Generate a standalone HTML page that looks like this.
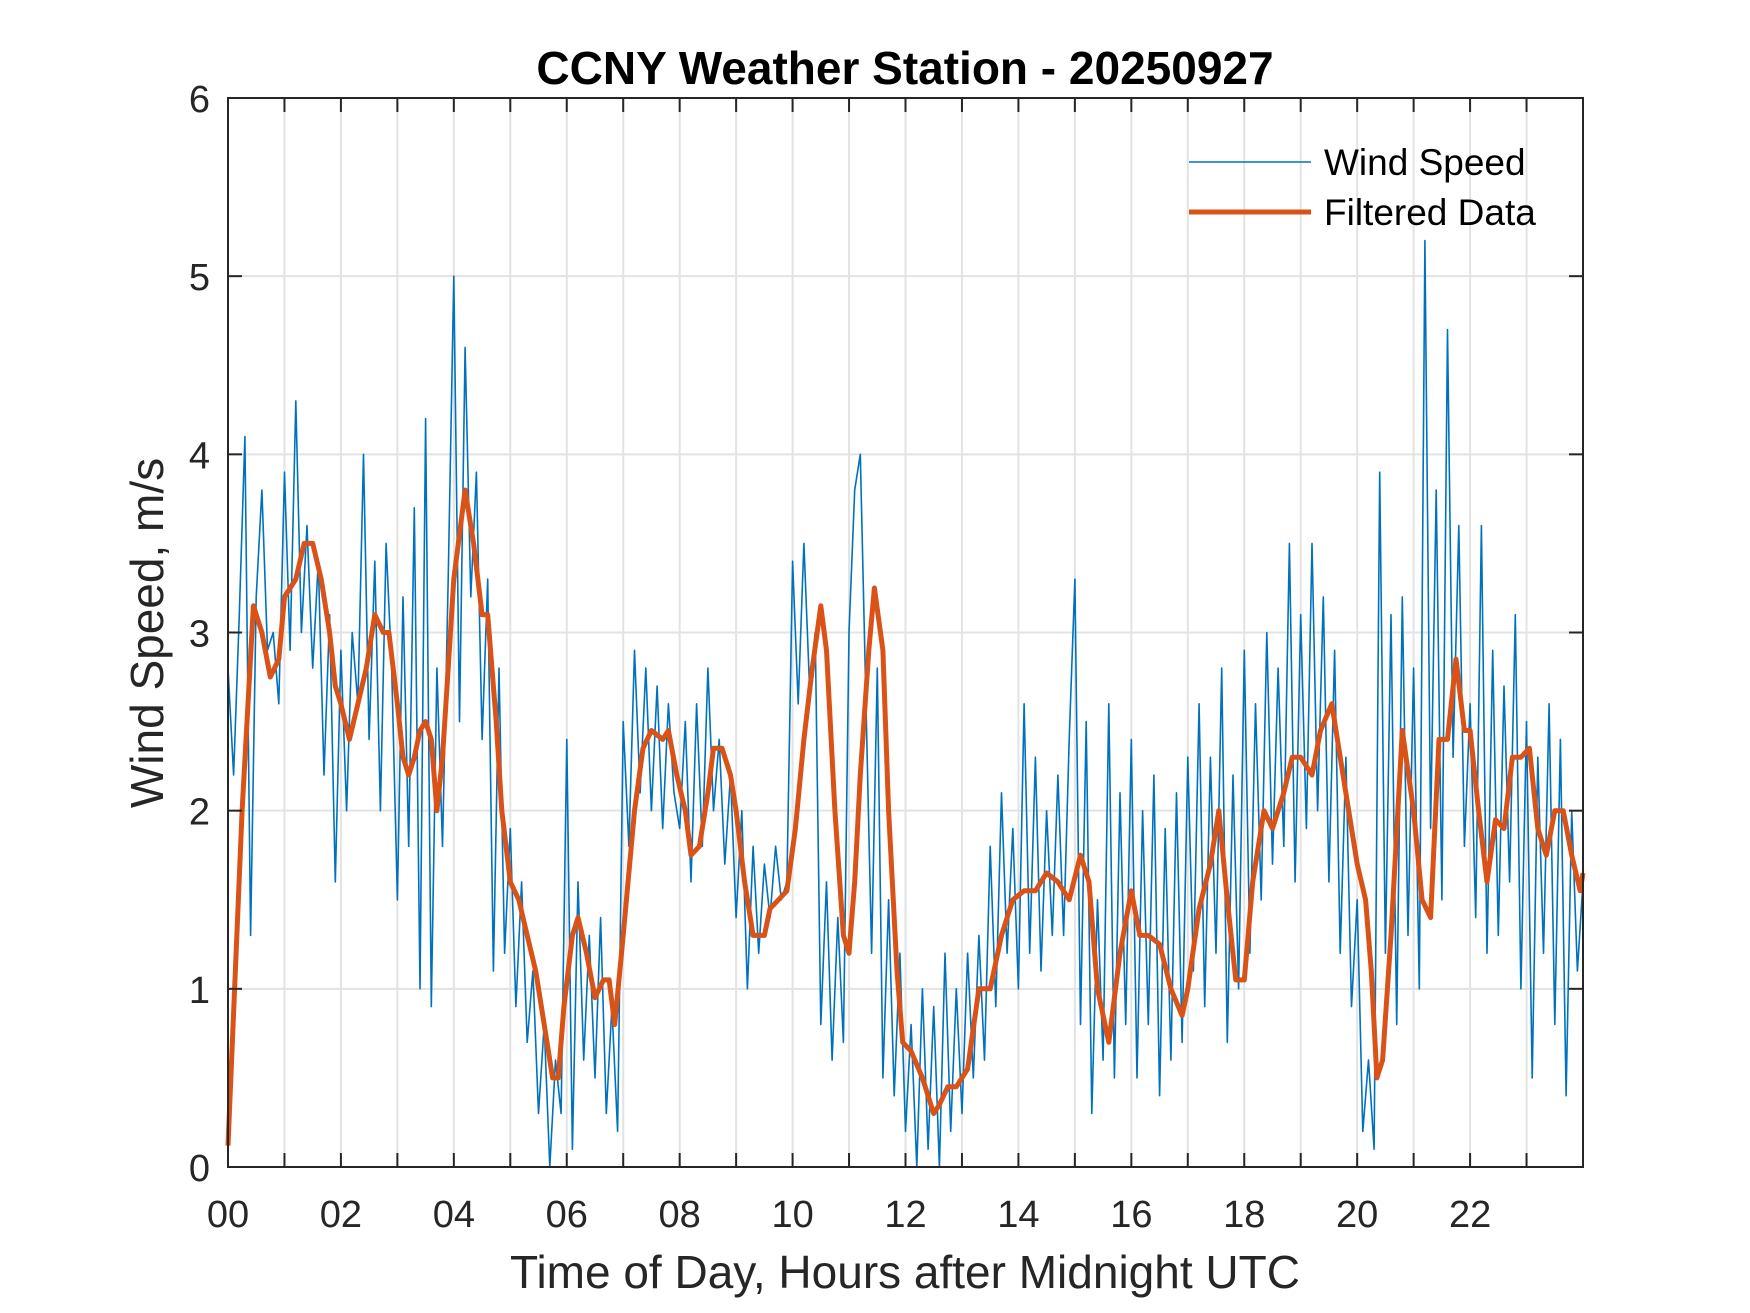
<!DOCTYPE html>
<html><head><meta charset="utf-8"><style>
body{margin:0;background:#fff}
svg{display:block;font-family:"Liberation Sans",Arial,sans-serif}
</style></head><body>
<svg id="c" width="1750" height="1313" viewBox="0 0 1750 1313" xmlns="http://www.w3.org/2000/svg">
<rect width="1750" height="1313" fill="#fff"/>
<g id="grid"></g>
<g id="plot"></g>
<g id="axes"></g>
<text x="905" y="84" text-anchor="middle" font-size="46" font-weight="bold" fill="#000">CCNY Weather Station - 20250927</text>
<text x="905" y="1288" text-anchor="middle" font-size="46" fill="#262626">Time of Day, Hours after Midnight UTC</text>
<text transform="translate(163,633) rotate(-90)" text-anchor="middle" font-size="46" fill="#262626">Wind Speed, m/s</text>
<g>
<line x1="1189" y1="162" x2="1311" y2="162" stroke="#0072BD" stroke-width="1.6"/>
<text x="1324" y="175" font-size="37" fill="#000">Wind Speed</text>
<line x1="1189" y1="212" x2="1311" y2="212" stroke="#D95319" stroke-width="5"/>
<text x="1324" y="225" font-size="37" fill="#000">Filtered Data</text>
</g>
</svg>
<script>
const windSpeed = [
2.8,2.2,3.1,4.1,1.3,3.2,3.8,2.9,3.0,2.6,
3.9,2.9,4.3,3.0,3.6,2.8,3.4,2.2,3.1,1.6,
2.9,2.0,3.0,2.6,4.0,2.4,3.4,2.0,3.5,2.8,
1.5,3.2,1.8,3.7,1.0,4.2,0.9,2.8,1.8,3.3,
5.0,2.5,4.6,3.2,3.9,2.4,3.3,1.1,2.8,1.2,
1.9,0.9,1.6,0.7,1.1,0.3,0.8,0.0,0.6,0.3,
2.4,0.1,1.6,0.6,1.3,0.5,1.4,0.3,0.9,0.2,
2.5,1.8,2.9,2.1,2.8,2.0,2.7,1.9,2.6,2.1,
1.9,2.5,1.6,2.6,1.8,2.8,2.0,2.4,1.7,2.2,
1.4,2.0,1.0,1.8,1.2,1.7,1.4,1.8,1.5,1.6,
3.4,2.6,3.5,2.7,3.0,0.8,1.6,0.6,1.4,0.7,
3.0,3.8,4.0,2.6,1.2,2.8,0.5,1.5,0.4,1.2,
0.2,0.8,0.0,1.0,0.1,0.9,0.0,1.2,0.2,1.0,
0.3,1.2,0.5,1.3,0.6,1.8,0.9,2.1,1.2,1.9,
1.0,2.6,1.2,2.3,1.1,2.0,1.3,2.2,1.3,2.4,
3.3,0.8,2.5,0.3,1.5,0.6,2.6,0.5,2.1,0.8,
2.4,0.5,2.0,0.8,2.2,0.4,1.9,0.6,2.1,0.7,
2.3,1.1,2.6,0.9,2.3,1.2,2.8,0.7,2.2,1.0,
2.9,1.2,2.6,1.5,3.0,1.7,2.8,1.8,3.5,1.6,
3.1,1.9,3.5,2.0,3.2,1.6,2.9,1.2,2.3,0.9,
1.5,0.2,0.6,0.1,3.9,1.2,3.1,0.8,3.2,1.3,
2.8,1.0,5.2,1.9,3.8,1.5,4.7,2.3,3.6,1.8,
2.6,1.4,3.6,1.2,2.9,1.3,2.7,1.6,3.1,1.0,
2.5,0.5,2.3,1.2,2.6,0.8,2.4,0.4,2.0,1.1,1.6];
const filtHours = [0,0.25,0.45,0.6,0.75,0.9,1.0,1.2,1.35,1.5,1.65,1.8,1.9,2.0,2.15,2.3,2.45,2.6,2.75,2.85,3.0,3.1,3.2,3.3,3.4,3.5,3.6,3.7,3.8,3.9,4.0,4.2,4.35,4.5,4.6,4.75,4.85,5.0,5.15,5.3,5.45,5.6,5.75,5.85,5.95,6.1,6.2,6.35,6.5,6.65,6.75,6.85,7.0,7.2,7.35,7.5,7.7,7.8,7.95,8.1,8.2,8.35,8.5,8.6,8.75,8.9,9.0,9.15,9.3,9.5,9.6,9.75,9.9,10.05,10.2,10.35,10.5,10.6,10.75,10.9,11.0,11.1,11.2,11.35,11.45,11.6,11.7,11.85,11.95,12.1,12.3,12.5,12.6,12.75,12.9,13.1,13.3,13.5,13.7,13.9,14.1,14.3,14.5,14.7,14.9,15.1,15.25,15.4,15.6,15.8,16.0,16.15,16.3,16.5,16.7,16.9,17.0,17.2,17.4,17.55,17.7,17.85,18.0,18.15,18.35,18.5,18.7,18.85,19.0,19.2,19.35,19.55,19.7,19.85,20.0,20.15,20.25,20.35,20.45,20.6,20.8,21.0,21.15,21.3,21.45,21.6,21.75,21.9,22.0,22.15,22.3,22.45,22.6,22.75,22.9,23.05,23.2,23.35,23.5,23.65,23.8,23.95,24.0];
const filtValues = [0.12,2.0,3.15,3.0,2.75,2.85,3.2,3.3,3.5,3.5,3.3,3.0,2.7,2.6,2.4,2.6,2.8,3.1,3.0,3.0,2.6,2.3,2.2,2.3,2.45,2.5,2.4,2.0,2.3,2.8,3.3,3.8,3.5,3.1,3.1,2.5,2.0,1.6,1.5,1.3,1.1,0.8,0.5,0.5,0.9,1.3,1.4,1.2,0.95,1.05,1.05,0.8,1.3,2.0,2.35,2.45,2.4,2.45,2.2,2.0,1.75,1.8,2.1,2.35,2.35,2.2,2.0,1.6,1.3,1.3,1.45,1.5,1.55,1.9,2.4,2.8,3.15,2.9,2.0,1.3,1.2,1.6,2.2,2.9,3.25,2.9,2.0,1.1,0.7,0.65,0.5,0.3,0.35,0.45,0.45,0.55,1.0,1.0,1.3,1.5,1.55,1.55,1.65,1.6,1.5,1.75,1.6,1.0,0.7,1.2,1.55,1.3,1.3,1.25,1.0,0.85,1.0,1.45,1.7,2.0,1.5,1.05,1.05,1.6,2.0,1.9,2.1,2.3,2.3,2.2,2.45,2.6,2.3,2.0,1.7,1.5,1.1,0.5,0.6,1.3,2.45,2.0,1.5,1.4,2.4,2.4,2.85,2.45,2.45,2.0,1.6,1.95,1.9,2.3,2.3,2.35,1.9,1.75,2.0,2.0,1.75,1.55,1.65];
const xTickLabels = ["00","02","04","06","08","10","12","14","16","18","20","22"];
const yTickLabels = ["0","1","2","3","4","5","6"];

const L=228,R=1583,T=98,B=1167,XMAX=24,YMAX=6;
const sx=h=>L+(R-L)*h/XMAX, sy=v=>B-(B-T)*v/YMAX;
const NS="http://www.w3.org/2000/svg";
function mk(tag,attrs,parent){const e=document.createElementNS(NS,tag);for(const k in attrs)e.setAttribute(k,attrs[k]);parent.appendChild(e);return e;}
const grid=document.getElementById('grid'),plot=document.getElementById('plot'),axes=document.getElementById('axes');
for(let h=1;h<XMAX;h++){
  const g=mk('line',{x1:sx(h),x2:sx(h),y1:T,y2:B,stroke:'#e3e3e3','stroke-width':2},grid);
  
  
  for(const [a,b] of [[B,B-14],[T,T+14]]){
    const t=mk('line',{x1:sx(h),x2:sx(h),y1:a,y2:b,stroke:'#262626','stroke-width':2},axes);
    
    
  }
}
for(let v=1;v<YMAX;v++){
  const g=mk('line',{x1:L,x2:R,y1:sy(v),y2:sy(v),stroke:'#e3e3e3','stroke-width':2},grid);
  
  
  for(const [a,b] of [[L,L+14],[R,R-14]]){
    const t=mk('line',{x1:a,x2:b,y1:sy(v),y2:sy(v),stroke:'#262626','stroke-width':2},axes);
    
    
  }
}
xTickLabels.forEach((s,i)=>{
  const t=mk('text',{x:sx(i*2),y:1227,'text-anchor':'middle','font-size':38,fill:'#262626'},axes);
  t.textContent=s;
  
  
});
yTickLabels.forEach((s,i)=>{
  const t=mk('text',{x:210,y:sy(i)+14,'text-anchor':'end','font-size':38,fill:'#262626'},axes);
  t.textContent=s;
  
  
});
const fr=mk('rect',{x:L,y:T,width:R-L,height:B-T,fill:'none',stroke:'#262626','stroke-width':2},axes);


const n=windSpeed.length;
const wp=windSpeed.map((v,i)=>sx(i*XMAX/(n-1)).toFixed(1)+','+sy(v).toFixed(1)).join(' ');
const w=mk('polyline',{points:wp,fill:'none',stroke:'#0072BD','stroke-width':1.6,'stroke-linejoin':'round'},plot);


const fp=filtValues.map((v,i)=>sx(filtHours[i]).toFixed(1)+','+sy(v).toFixed(1)).join(' ');
const f=mk('polyline',{points:fp,fill:'none',stroke:'#D95319','stroke-width':5,'stroke-linejoin':'round'},plot);


</script>
</body></html>
